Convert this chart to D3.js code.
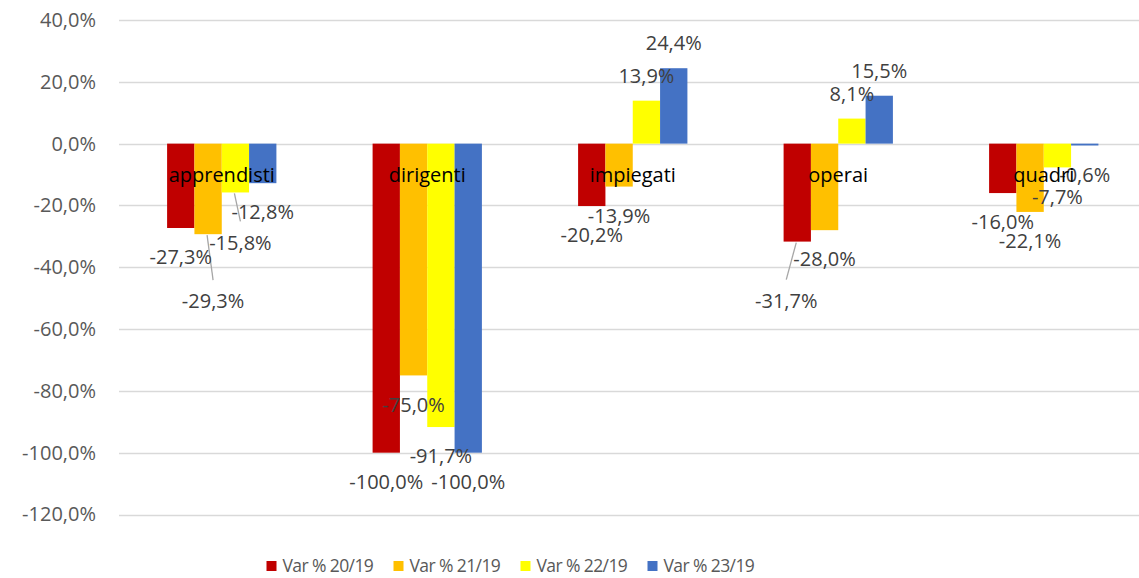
<!DOCTYPE html>
<html>
<head>
<meta charset="utf-8">
<script src="https://cdn.jsdelivr.net/npm/d3@7"></script>
<style>
	body { margin: 0; background: #fff; }
	svg { display: block; font-family: 'Open Sans', sans-serif; }
</style>
</head>
<body>
<div id="chart"></div>
<script>
// categories and series
var categories = ['apprendisti', 'dirigenti', 'impiegati', 'operai', 'quadri'];
var seriesNames = ['Var % 20/19', 'Var % 21/19', 'Var % 22/19', 'Var % 23/19'];
var var2019 = [-27.3, -100.0, -20.2, -31.7, -16.0];
var var2119 = [-29.3, -75.0, -13.9, -28.0, -22.1];
var var2219 = [-15.8, -91.7, 13.9, 8.1, -7.7];
var var2319 = [-12.8, -100.0, 24.4, 15.5, -0.6];
var yTicks = [40, 20, 0, -20, -40, -60, -80, -100, -120];

var seriesValues = [var2019, var2119, var2219, var2319];
var colors = ['#C00000', '#FFC000', '#FFFF00', '#4472C4'];

// labels that were moved off the bar end (cat, series, dx, dy)
var moved = [
	{c: 0, s: 1, dx: 5, dy: 67, leader: true},
	{c: 0, s: 2, dx: 5, dy: 50, leader: true},
	{c: 3, s: 0, dx: -11, dy: 59, leader: true}
];

var width = 1139;
var height = 578;
var fmt = function(v){ return d3.format('.1f')(v).replace('.', ',').replace('−', '-') + '%'; };

var svg = d3.select('#chart')
	.append('svg')
	.attr('width', width)
	.attr('height', height);

var x0 = d3.scaleBand()
	.domain(categories)
	.range([119, 119 + 5 * 205.5])
	.padding(0);

var x1 = d3.scaleBand()
	.domain(seriesNames)
	.range([0, x0.bandwidth()])
	.paddingInner(0)
	.paddingOuter(1.76);

var y = d3.scaleLinear()
	.domain([-120, 40])
	.range([514.5, 20]);

// gridlines
svg.append('g')
	.selectAll('line')
	.data(yTicks)
	.enter()
	.append('line')
	.attr('x1', 119)
	.attr('x2', width)
	.attr('y1', function(d){ return Math.round(y(d)) + 0.5; })
	.attr('y2', function(d){ return Math.round(y(d)) + 0.5; })
	.attr('stroke', '#d9d9d9')
	.attr('stroke-width', 1.3);

// y axis labels
var yAxis = d3.axisLeft(y)
	.tickValues(yTicks)
	.tickFormat(fmt)
	.tickSize(0)
	.tickPadding(0);

var yg = svg.append('g')
	.attr('transform', 'translate(96,0)')
	.call(yAxis);
yg.select('.domain').remove();
yg.selectAll('text')
	.attr('fill', '#595959')
	.style('font-size', '20px')
	.style('font-family', 'Open Sans, sans-serif');

// bars
var rows = [];
categories.forEach(function(cat, ci){
	seriesNames.forEach(function(s, si){
		rows.push({cat: cat, ci: ci, series: s, si: si, value: seriesValues[si][ci]});
	});
});

function barX(d){ return x0(d.cat) + x1(d.series); }
function barCx(d){ return barX(d) + x1.bandwidth() / 2; }

svg.append('g')
	.selectAll('rect')
	.data(rows)
	.enter()
	.append('rect')
	.attr('x', barX)
	.attr('width', x1.bandwidth())
	.attr('y', function(d){ return Math.min(y(d.value), y(0)); })
	.attr('height', function(d){ return Math.abs(y(d.value) - y(0)); })
	.attr('fill', function(d){ return colors[d.si]; });

// data labels
rows.forEach(function(d){
	var m = moved.filter(function(o){ return o.c === d.ci && o.s === d.si; })[0];
	d.lx = barCx(d) + (m ? m.dx : 0);
	d.ly = y(d.value) + (m ? m.dy : (d.value < 0 ? 29 : -25));
	d.leader = m ? m.leader : false;
});

svg.append('g')
	.selectAll('line')
	.data(rows.filter(function(d){ return d.leader; }))
	.enter()
	.append('line')
	.attr('x1', function(d){ return barCx(d) - 1; })
	.attr('y1', function(d){ return y(d.value) + 1; })
	.attr('x2', function(d){ return d.lx; })
	.attr('y2', function(d){ return d.ly - 21; })
	.attr('stroke', '#a6a6a6')
	.attr('stroke-width', 1.3);

svg.append('g')
	.selectAll('text')
	.data(rows)
	.enter()
	.append('text')
	.attr('x', function(d){ return d.lx; })
	.attr('y', function(d){ return d.ly; })
	.attr('dy', '0.36em')
	.attr('text-anchor', 'middle')
	.attr('fill', '#404040')
	.style('font-size', '20px')
	.text(function(d){ return fmt(d.value); });

// category labels (next to axis, drawn over bars)
svg.append('g')
	.selectAll('text')
	.data(categories)
	.enter()
	.append('text')
	.attr('x', function(d){ return x0(d) + x0.bandwidth() / 2; })
	.attr('y', 181.5)
	.attr('text-anchor', 'middle')
	.attr('fill', '#000')
	.style('font-size', '20px')
	.text(function(d){ return d; });

// legend
var legend = svg.selectAll('.legend')
	.data(seriesNames)
	.enter()
	.append('g')
	.attr('class', 'legend')
	.attr('transform', function(d, i){
		return 'translate(' + (266.5 + i * 127) + ',561)';
	});

legend.append('rect')
	.attr('width', 10)
	.attr('height', 10)
	.style('fill', function(d, i){ return colors[i]; });

legend.append('text')
	.attr('x', 16)
	.attr('y', 5)
	.attr('dy', '0.36em')
	.attr('fill', '#595959')
	.style('font-size', '17.5px')
	.style('letter-spacing', '-0.6px')
	.text(function(d){ return d; });
</script>
</body>
</html>
